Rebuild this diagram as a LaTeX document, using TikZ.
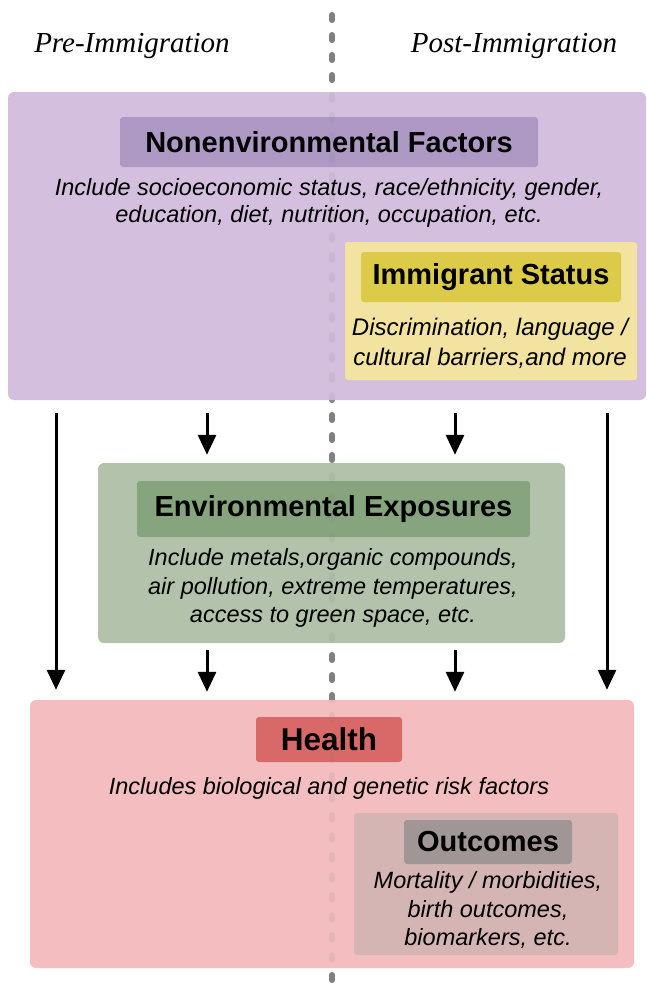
\documentclass[tikz,border=0pt]{standalone}
\usepackage{fontspec}
\setmainfont{Liberation Sans}
\newfontfamily\headserif{Liberation Serif}
\usetikzlibrary{arrows.meta,calc}

\definecolor{purpleOut}{HTML}{D4C0DE}
\definecolor{purpleHead}{HTML}{AE98C4}
\definecolor{yellowOut}{HTML}{F2E3A1}
\definecolor{yellowHead}{HTML}{DCCB48}
\definecolor{greenOut}{HTML}{B3C3AB}
\definecolor{greenHead}{HTML}{86A47E}
\definecolor{pinkOut}{HTML}{F4BEC0}
\definecolor{redHead}{HTML}{D96868}
\definecolor{outcOut}{HTML}{D5B4B4}
\definecolor{outcHead}{HTML}{A09696}
\definecolor{divider}{HTML}{808080}

\begin{document}
\begin{tikzpicture}[x=1pt,y=-1pt,
  panel/.style={rounded corners=6pt, inner sep=0pt, draw=none},
  headbox/.style={rounded corners=3pt, inner sep=0pt, draw=none,
    font=\fontsize{29}{32}\selectfont\bfseries},
  desc/.style={align=center, inner sep=0pt,
    font=\fontsize{23.5}{27}\selectfont\itshape},
  era/.style={inner sep=0pt, font=\headserif\fontsize{29}{32}\selectfont\itshape},
  arr/.style={line width=3pt, -{Triangle[width=18pt,length=20pt]}},
  divline/.style={draw=divider, line width=6pt, line cap=round,
    dash pattern=on 5pt off 15pt}
]
\useasboundingbox (0,0) rectangle (647,991);

% time divider between the two periods
\coordinate (dtop) at (332,15);
\coordinate (dbot) at (332,991);
\draw[divline] (dtop) -- (dbot);

% period headings
\node[era] (pre) at (132,46) {Pre-Immigration};
\node[era] (post) at (514,46) {Post-Immigration};

% nonenvironmental factors
\node[panel, fill=purpleOut, minimum width=638, minimum height=308] (purple) at (327,246) {};
\node[headbox, fill=purpleHead, minimum width=418, minimum height=50] (nonenv) at (329,142) {Nonenvironmental Factors};
\node[desc] (nonenvtxt) at (329,203) {Include socioeconomic status, race/ethnicity, gender,\\education, diet, nutrition, occupation, etc.};

% immigrant status
\node[panel, rounded corners=3pt, fill=yellowOut, minimum width=292, minimum height=138] (yellow) at (491,311) {};
\node[headbox, fill=yellowHead, minimum width=260, minimum height=50] (immig) at (491,277) {Immigrant Status};
\node[desc, font=\fontsize{24}{30}\selectfont\itshape] (immigtxt) at (490,343) {Discrimination, language /\\cultural barriers,and more};

% environmental exposures
\node[panel, fill=greenOut, minimum width=467, minimum height=180] (green) at (331.5,553) {};
\node[headbox, fill=greenHead, minimum width=393, minimum height=56] (env) at (333.5,509) {Environmental Exposures};
\node[desc, font=\fontsize{23.5}{28.5}\selectfont\itshape] (envtxt) at (333,588) {Include metals,organic compounds,\\air pollution, extreme temperatures,\\access to green space, etc.};

% health
\node[panel, fill=pinkOut, minimum width=604, minimum height=268] (pink) at (332,834) {};
\node[headbox, fill=redHead, minimum width=146, minimum height=45,
  font=\fontsize{31.5}{34}\selectfont\bfseries] (health) at (329,739.5) {Health};
\node[desc] (healthtxt) at (329,788) {Includes biological and genetic risk factors};

% outcomes
\node[panel, rounded corners=3pt, fill=outcOut, minimum width=264, minimum height=142] (outc) at (486,884) {};
\node[headbox, fill=outcHead, minimum width=168, minimum height=44] (outchead) at (488,842) {Outcomes};
\node[desc, font=\fontsize{23.5}{28.5}\selectfont\itshape] (outctxt) at (488,910) {Mortality / morbidities,\\birth outcomes,\\biomarkers, etc.};

% divider faintly visible through the panels
\draw[divline, draw opacity=0.12] (dtop) -- (dbot);

% arrow columns
\coordinate (c1) at (56,0);
\coordinate (c2) at (207,0);
\coordinate (c3) at (455,0);
\coordinate (c4) at (607,0);

\draw[arr] ([yshift=-13pt]purple.south -| c1) -- ([yshift=10pt]pink.north -| c1);
\draw[arr] ([yshift=-13pt]purple.south -| c4) -- ([yshift=10pt]pink.north -| c4);
\draw[arr] ([yshift=-13pt]purple.south -| c2) -- ([yshift=8pt]green.north -| c2);
\draw[arr] ([yshift=-13pt]purple.south -| c3) -- ([yshift=8pt]green.north -| c3);
\draw[arr] ([yshift=-7pt]green.south -| c2) -- ([yshift=8pt]pink.north -| c2);
\draw[arr] ([yshift=-7pt]green.south -| c3) -- ([yshift=8pt]pink.north -| c3);
\end{tikzpicture}
\end{document}
